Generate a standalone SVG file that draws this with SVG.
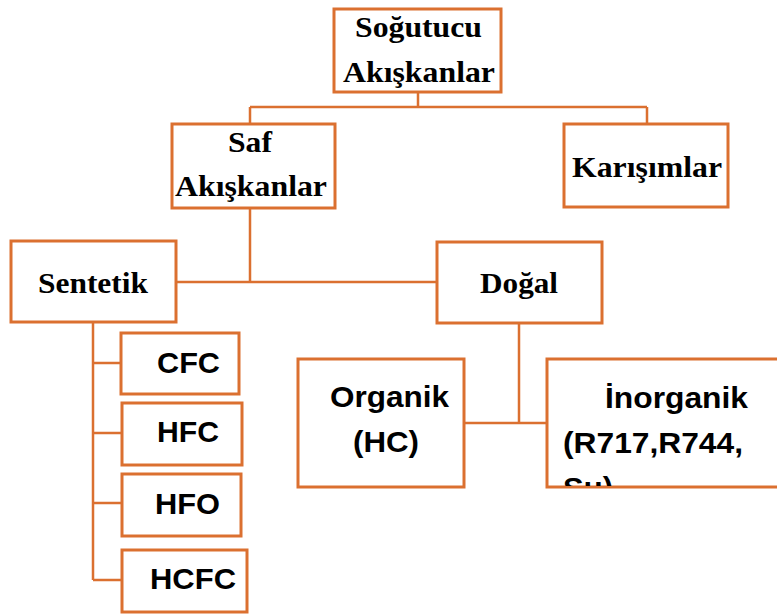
<svg xmlns="http://www.w3.org/2000/svg" width="777" height="615" viewBox="0 0 777 615">
<style>
.box{fill:#fff;stroke:#DB7030;stroke-width:3}
.con{fill:none;stroke:#DB7030;stroke-width:2.5}
.tr{font-family:"Liberation Serif","Times New Roman",serif;font-weight:bold;font-size:30px;fill:#000}
.ar{font-family:"Liberation Sans",Arial,sans-serif;font-weight:bold;font-size:30px;fill:#000}
</style>
<defs>
<clipPath id="clipInorg"><rect x="548" y="360" width="240" height="126"/></clipPath>
</defs>
<rect width="777" height="615" fill="#fff"/>
<g id="connectors">
<path class="con" d="M418 92V107M250 107H647M250 107V124M647 107V124"/>
<path class="con" d="M250 208V282M176 282H437"/>
<path class="con" d="M519 323V423M464 423H548"/>
<path class="con" d="M93 322V580M93 363H121M93 433H122M93 503H122M93 580H122"/>
</g>
<g id="n-sogutucu">
<rect class="box" x="334" y="9" width="167" height="83"/>
<text class="tr" x="355" y="37" textLength="127" lengthAdjust="spacingAndGlyphs">Soğutucu</text>
<text class="tr" x="343" y="82" textLength="152" lengthAdjust="spacingAndGlyphs">Akışkanlar</text>
</g>
<g id="n-saf">
<rect class="box" x="172" y="124" width="163" height="84"/>
<text class="tr" x="228" y="152" textLength="44" lengthAdjust="spacingAndGlyphs">Saf</text>
<text class="tr" x="175" y="196" textLength="152" lengthAdjust="spacingAndGlyphs">Akışkanlar</text>
</g>
<g id="n-karisimlar">
<rect class="box" x="564" y="124" width="164" height="83"/>
<text class="tr" x="572" y="177" textLength="150" lengthAdjust="spacingAndGlyphs">Karışımlar</text>
</g>
<g id="n-sentetik">
<rect class="box" x="11" y="241" width="165" height="81"/>
<text class="tr" x="38" y="293" textLength="110" lengthAdjust="spacingAndGlyphs">Sentetik</text>
</g>
<g id="n-dogal">
<rect class="box" x="437" y="242" width="165" height="81"/>
<text class="tr" x="480" y="293" textLength="78" lengthAdjust="spacingAndGlyphs">Doğal</text>
</g>
<g id="n-cfc">
<rect class="box" x="121" y="333" width="118" height="61"/>
<text class="ar" x="157" y="373" textLength="63" lengthAdjust="spacingAndGlyphs">CFC</text>
</g>
<g id="n-hfc">
<rect class="box" x="122" y="403" width="120" height="62"/>
<text class="ar" x="157" y="442" textLength="62" lengthAdjust="spacingAndGlyphs">HFC</text>
</g>
<g id="n-hfo">
<rect class="box" x="122" y="474" width="119" height="62"/>
<text class="ar" x="155" y="514" textLength="65" lengthAdjust="spacingAndGlyphs">HFO</text>
</g>
<g id="n-hcfc">
<rect class="box" x="122" y="550" width="125" height="62"/>
<text class="ar" x="150" y="589" textLength="86" lengthAdjust="spacingAndGlyphs">HCFC</text>
</g>
<g id="n-organik">
<rect class="box" x="298" y="359" width="166" height="128"/>
<text class="ar" x="330" y="407" textLength="119" lengthAdjust="spacingAndGlyphs">Organik</text>
<text class="ar" x="353" y="452" textLength="66" lengthAdjust="spacingAndGlyphs">(HC)</text>
</g>
<g id="n-inorganik">
<rect class="box" x="547" y="359" width="260" height="128"/>
<g clip-path="url(#clipInorg)">
<text class="ar" x="605" y="408" textLength="143" lengthAdjust="spacingAndGlyphs">İnorganik</text>
<text class="ar" x="563" y="453" textLength="180" lengthAdjust="spacingAndGlyphs">(R717,R744,</text>
<text class="ar" x="563" y="498" textLength="50" lengthAdjust="spacingAndGlyphs">Su)</text>
</g>
</g>
</svg>
